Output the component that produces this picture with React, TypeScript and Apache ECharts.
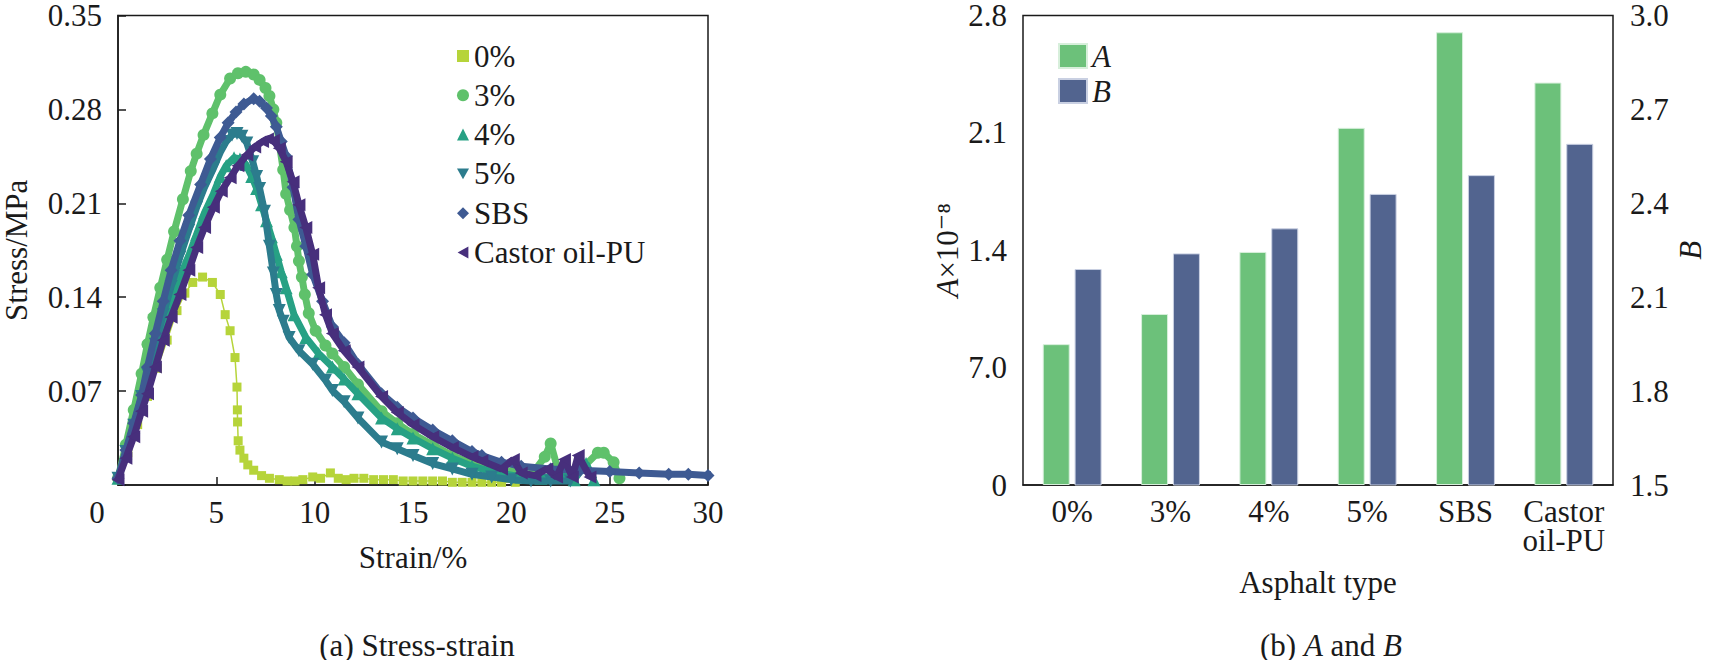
import React, { useEffect, useRef } from "react";
import * as echarts from "echarts";

// ---------- Data: stress-strain curves [strain %, stress MPa] ----------
const seriesNames = ["0%", "3%", "4%", "5%", "SBS", "Castor oil-PU"];
const seriesColors = ["#b6d43a", "#5fc16b", "#27a184", "#2c7c8d", "#3e5a93", "#472f7c"];

const curve0: [number, number][] = [
  [0, 0.004], [0.5, 0.024], [1, 0.045], [1.5, 0.066], [2, 0.087], [2.5, 0.108], [3, 0.13],
  [3.4, 0.143], [3.8, 0.151], [4.3, 0.155], [4.8, 0.151], [5.2, 0.142], [5.45, 0.127],
  [5.7, 0.115], [5.95, 0.095], [6.05, 0.073], [6.07, 0.056], [6.08, 0.047], [6.11, 0.033],
  [6.2, 0.026], [6.4, 0.02], [6.6, 0.015], [6.9, 0.011], [7.3, 0.007], [7.7, 0.005],
  [8.2, 0.004], [8.6, 0.003], [9.0, 0.003], [9.4, 0.004], [9.9, 0.006], [10.3, 0.005],
  [10.8, 0.009], [11.2, 0.005], [11.6, 0.004], [12.0, 0.005], [12.5, 0.005], [13.0, 0.004],
  [13.5, 0.004], [14.0, 0.004], [14.5, 0.003], [15.0, 0.003], [15.5, 0.003], [16.0, 0.003],
  [16.5, 0.003], [17.0, 0.002], [17.5, 0.002], [18.0, 0.002], [18.5, 0.002], [19.0, 0.002],
  [19.5, 0.002], [20.2, 0.002],
];
const curve3: [number, number][] = [
  [0, 0.005], [0.4, 0.03], [0.8, 0.056], [1.2, 0.083], [1.5, 0.105], [1.8, 0.125], [2.15, 0.147],
  [2.5, 0.168], [2.85, 0.189], [3.3, 0.213], [3.7, 0.234], [4.0, 0.247], [4.35, 0.261],
  [4.8, 0.277], [5.2, 0.291], [5.7, 0.303], [6.1, 0.307], [6.5, 0.308], [6.9, 0.306],
  [7.2, 0.302], [7.5, 0.296], [7.7, 0.29], [7.9, 0.28], [8.05, 0.27], [8.2, 0.255],
  [8.4, 0.235], [8.55, 0.217], [8.75, 0.205], [8.97, 0.192], [9.1, 0.178], [9.2, 0.167],
  [9.35, 0.155], [9.5, 0.142], [9.7, 0.128], [10.05, 0.115], [10.55, 0.104], [10.9, 0.098],
  [11.5, 0.088], [12.2, 0.075], [13.4, 0.055], [14.2, 0.046], [15, 0.038], [16, 0.03],
  [17, 0.022], [18, 0.016], [19, 0.012], [20, 0.009], [21, 0.007], [21.7, 0.021], [22, 0.031],
  [22.4, 0.01], [23, 0.008], [23.7, 0.014], [24.4, 0.024], [24.7, 0.024], [25.2, 0.017],
  [25.5, 0.005],
];
const curve4: [number, number][] = [
  [0, 0.005], [0.4, 0.024], [0.8, 0.043], [1.2, 0.063], [1.5, 0.08], [1.9, 0.1], [2.3, 0.118],
  [2.7, 0.136], [3.15, 0.155], [3.6, 0.171], [4.0, 0.187], [4.4, 0.203], [4.85, 0.217],
  [5.2, 0.23], [5.5, 0.238], [5.9, 0.244], [6.2, 0.243], [6.5, 0.239], [6.8, 0.23],
  [7.05, 0.221], [7.3, 0.209], [7.55, 0.197], [7.8, 0.185], [8.05, 0.172], [8.3, 0.159],
  [8.55, 0.147], [8.95, 0.127], [9.55, 0.11], [10.2, 0.098], [10.9, 0.088], [11.5, 0.079],
  [12.2, 0.068], [13.4, 0.05], [14.2, 0.042], [15, 0.035], [16, 0.027], [17, 0.02],
  [18, 0.014], [19, 0.01], [20.5, 0.006], [21.5, 0.005], [22.5, 0.008], [23.2, 0.004],
  [23.8, 0.016], [24.2, 0.004],
];
const curve5: [number, number][] = [
  [0, 0.005], [0.4, 0.025], [0.8, 0.0445], [1.2, 0.066], [1.5, 0.083], [1.9, 0.105], [2.3, 0.127],
  [2.7, 0.148], [3.15, 0.17], [3.6, 0.19], [4.0, 0.207], [4.4, 0.222], [4.85, 0.236],
  [5.2, 0.248], [5.5, 0.256], [5.8, 0.261], [6.05, 0.262], [6.3, 0.26], [6.55, 0.255],
  [6.85, 0.241], [7.05, 0.23], [7.2, 0.221], [7.45, 0.204], [7.7, 0.178], [7.9, 0.158],
  [8.05, 0.142], [8.2, 0.13], [8.4, 0.122], [8.7, 0.11], [9.2, 0.1], [9.9, 0.09],
  [10.55, 0.078], [10.9, 0.0705], [11.5, 0.062], [12.2, 0.05], [13.4, 0.032], [14.2, 0.027],
  [15, 0.022], [16, 0.016], [17, 0.012], [18, 0.008], [19, 0.006], [20, 0.004], [21, 0.003],
  [22, 0.003], [23, 0.003],
];
const curveSBS: [number, number][] = [
  [0, 0.005], [0.4, 0.026], [0.8, 0.046], [1.2, 0.067], [1.5, 0.088], [1.9, 0.113], [2.3, 0.137],
  [2.7, 0.16], [3.15, 0.182], [3.6, 0.201], [4.2, 0.224], [4.7, 0.243], [5.2, 0.259],
  [5.6, 0.27], [6.0, 0.278], [6.4, 0.284], [6.9, 0.288], [7.2, 0.286], [7.55, 0.281],
  [7.8, 0.275], [8.05, 0.267], [8.3, 0.256], [8.55, 0.245], [8.9, 0.222], [9.2, 0.198],
  [9.55, 0.178], [9.9, 0.157], [10.4, 0.137], [10.9, 0.118], [11.5, 0.106], [12.2, 0.09],
  [13.4, 0.068], [14.2, 0.058], [15, 0.05], [16, 0.041], [17, 0.033], [18, 0.025],
  [18.5, 0.022], [19.5, 0.017], [20.5, 0.014], [22, 0.012], [23.5, 0.011], [25, 0.01],
  [26.5, 0.009], [28, 0.008], [29, 0.008], [30, 0.007], [30.2, 0.008],
];
const curveCastor: [number, number][] = [
  [0, 0.004], [0.4, 0.02], [0.8, 0.036], [1.2, 0.055], [1.5, 0.068], [1.9, 0.088], [2.3, 0.108],
  [2.7, 0.125], [3.15, 0.142], [3.6, 0.16], [4.0, 0.177], [4.4, 0.192], [4.85, 0.207],
  [5.25, 0.219], [5.7, 0.229], [6.1, 0.238], [6.55, 0.246], [6.95, 0.252], [7.35, 0.256],
  [7.6, 0.258], [7.9, 0.257], [8.2, 0.251], [8.55, 0.241], [8.9, 0.226], [9.2, 0.209],
  [9.55, 0.192], [9.9, 0.172], [10.2, 0.147], [10.55, 0.127], [10.9, 0.113], [11.5, 0.1],
  [12.2, 0.088], [13.4, 0.066], [14.2, 0.054], [15, 0.045], [16, 0.036], [17, 0.028],
  [18, 0.021], [18.5, 0.018], [19.5, 0.012], [20.1, 0.019], [20.5, 0.009], [21.2, 0.007],
  [21.8, 0.012], [22.3, 0.006], [22.7, 0.019], [23.1, 0.006], [23.4, 0.022], [24.0, 0.006],
];
const curves = [curve0, curve3, curve4, curve5, curveSBS, curveCastor];
const curveSymbols = [
  "rect",
  "circle",
  "triangle",
  "path://M0,0 L10,0 L5,9 Z",
  "diamond",
  "path://M10,0 L10,10 L1,5 Z",
];

const strainTicks = { min: 0, max: 30, interval: 5 };
const stressTicks = { min: 0, max: 0.35, interval: 0.07 };

// ---------- Data: A and B bars ----------
const asphaltTypes = ["0%", "3%", "4%", "5%", "SBS", "Castor\noil-PU"];
const valuesA = [0.84, 1.02, 1.39, 2.13, 2.7, 2.4];
const valuesB = [2.19, 2.24, 2.32, 2.43, 2.49, 2.59];
const leftTickLabels = ["0", "7.0", "1.4", "2.1", "2.8"];
const colorA = "#6cc17a";
const colorB = "#52648f";

const FONT = "'Liberation Serif', 'Times New Roman', 'DejaVu Serif', serif";
const FS = 31;
const INK = "#1a1a1a";

export default function App() {
  const ref = useRef<HTMLDivElement>(null);

  useEffect(() => {
    document.body.style.margin = "0";
    if (!ref.current) return;
    const chart = echarts.init(ref.current, null, { renderer: "svg" });

    const labelStyle = { fontFamily: FONT, fontSize: FS, color: INK };
    const nameStyle = { fontFamily: FONT, fontSize: FS, color: INK };
    const italic = { fontFamily: FONT, fontSize: FS, fontStyle: "italic", color: INK };

    const lineSeries = curves.map((c, i) => ({
      name: seriesNames[i],
      type: "line",
      xAxisIndex: 0,
      yAxisIndex: 0,
      data: c,
      showAllSymbol: true,
      symbol: curveSymbols[i],
      symbolSize: i === 0 ? 9 : i === 1 ? 12 : 13,
      itemStyle: { color: seriesColors[i] },
      lineStyle: { color: seriesColors[i], width: i === 0 ? 1.5 : 7 },
      z: 2 + i,
    }));

    const option: any = {
      animation: false,
      textStyle: { fontFamily: FONT },
      title: [
        {
          text: "(a) Stress-strain",
          left: 412,
          top: 625,
          textAlign: "center",
          textStyle: { fontFamily: FONT, fontSize: FS, fontWeight: "normal", color: INK },
        },
        {
          text: "(b) {i|A} and {i|B}",
          left: 1326,
          top: 625,
          textAlign: "center",
          textStyle: {
            fontFamily: FONT,
            fontSize: FS,
            fontWeight: "normal",
            color: INK,
            rich: { i: italic },
          },
        },
      ],
      legend: [
        {
          orient: "vertical",
          left: 452,
          top: 35,
          itemWidth: 12,
          itemHeight: 12,
          itemGap: 7.3,
          textStyle: { fontFamily: FONT, fontSize: FS, color: INK, lineHeight: 32 },
          data: seriesNames.map((n, i) => ({ name: n, icon: curveSymbols[i] })),
        },
        {
          orient: "vertical",
          left: 1053,
          top: 35,
          itemWidth: 28,
          itemHeight: 24,
          itemGap: 3,
          formatter: (n: string) => `{i|${n}}`,
          textStyle: {
            fontFamily: FONT,
            fontSize: FS,
            color: INK,
            lineHeight: 32,
            rich: { i: italic },
          },
          data: [
            { name: "A", icon: "rect" },
            { name: "B", icon: "rect" },
          ],
        },
      ],
      grid: [
        { left: 115, top: 13, width: 593, height: 472, show: true, borderColor: INK, borderWidth: 1.5, containLabel: false },
        { left: 1023, top: 13, width: 590, height: 472, show: true, borderColor: INK, borderWidth: 1.5, containLabel: false },
      ],
      xAxis: [
        {
          type: "value",
          gridIndex: 0,
          ...strainTicks,
          name: "Strain/%",
          nameLocation: "middle",
          nameGap: 57,
          nameTextStyle: nameStyle,
          axisLine: { lineStyle: { color: INK, width: 1.5 } },
          axisTick: { inside: true, length: 8, lineStyle: { color: INK, width: 1.5 } },
          splitLine: { show: false },
          axisLabel: {
            ...labelStyle,
            margin: 12,
            formatter: (v: number) => (v === 0 ? "{z|0}" : String(v)),
            rich: { z: { fontFamily: FONT, fontSize: FS, color: INK, padding: [0, 42, 0, 0] } },
          },
        },
        {
          type: "category",
          gridIndex: 1,
          data: asphaltTypes,
          name: "Asphalt type",
          nameLocation: "middle",
          nameGap: 82,
          nameTextStyle: nameStyle,
          axisLine: { lineStyle: { color: INK, width: 1.5 } },
          axisTick: { show: false },
          axisLabel: { ...labelStyle, margin: 12, lineHeight: 29, interval: 0 },
        },
      ],
      yAxis: [
        {
          type: "value",
          gridIndex: 0,
          ...stressTicks,
          name: "Stress/MPa",
          nameLocation: "middle",
          nameGap: 86,
          nameTextStyle: nameStyle,
          axisLine: { lineStyle: { color: INK, width: 1.5 } },
          axisTick: { inside: true, length: 8, lineStyle: { color: INK, width: 1.5 } },
          splitLine: { show: false },
          axisLabel: {
            ...labelStyle,
            margin: 16,
            lineHeight: 24,
            formatter: (v: number) => (v === 0 ? "" : v.toFixed(2)),
          },
        },
        {
          type: "value",
          gridIndex: 1,
          min: 0,
          max: 2.8,
          interval: 0.7,
          position: "left",
          name: "{i|A}×10⁻⁸",
          nameLocation: "middle",
          nameGap: 60,
          nameTextStyle: { ...nameStyle, rich: { i: italic } },
          axisLine: { lineStyle: { color: INK, width: 1.5 } },
          axisTick: { inside: true, length: 8, lineStyle: { color: INK, width: 1.5 } },
          splitLine: { show: false },
          axisLabel: {
            ...labelStyle,
            margin: 16,
            lineHeight: 24,
            formatter: (v: number) => leftTickLabels[Math.round(v / 0.7)] ?? "",
          },
        },
        {
          type: "value",
          gridIndex: 1,
          min: 1.5,
          max: 3.0,
          interval: 0.3,
          position: "right",
          name: "B",
          nameLocation: "middle",
          nameGap: 62,
          nameTextStyle: { ...nameStyle, fontStyle: "italic" },
          axisLine: { lineStyle: { color: "#6b748f", width: 1.5 } },
          axisTick: { inside: true, length: 8, lineStyle: { color: "#6b748f", width: 1.5 } },
          splitLine: { show: false },
          axisLabel: {
            ...labelStyle,
            margin: 17,
            lineHeight: 24,
            formatter: (v: number) => v.toFixed(1),
          },
        },
      ],
      series: [
        ...lineSeries,
        {
          name: "A",
          type: "bar",
          xAxisIndex: 1,
          yAxisIndex: 1,
          data: valuesA,
          barWidth: 27,
          barGap: "18%",
          itemStyle: { color: colorA, borderColor: "#d7efdb", borderWidth: 1 },
        },
        {
          name: "B",
          type: "bar",
          xAxisIndex: 1,
          yAxisIndex: 2,
          data: valuesB,
          barWidth: 27,
          barGap: "18%",
          clip: true,
          itemStyle: { color: colorB, borderColor: "#c9d0e2", borderWidth: 1 },
        },
      ],
    };

    chart.setOption(option);
    return () => chart.dispose();
  }, []);

  return <div ref={ref} style={{ width: 1713, height: 660 }} />;
}
